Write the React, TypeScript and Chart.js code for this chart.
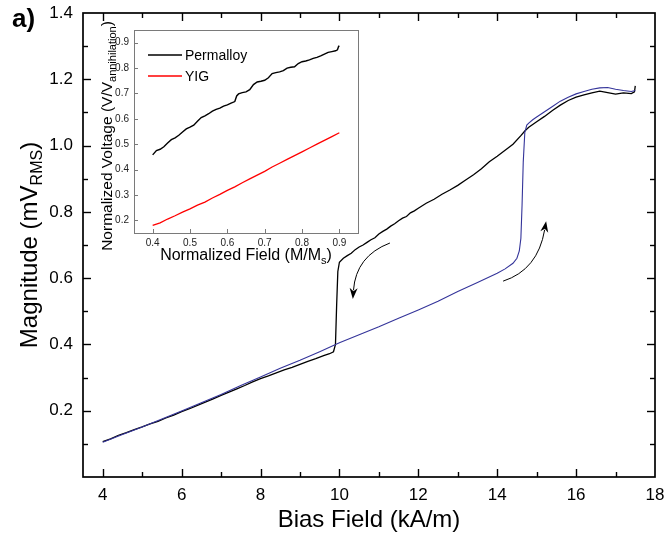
import React, { useEffect, useRef } from "react";
import { Chart, registerables } from "chart.js";

Chart.register(...registerables);

const FONT = "'Liberation Sans', Arial, Helvetica, sans-serif";

// ---------------- Main chart data ----------------
// Permalloy sweep (black): field in kA/m, magnitude in mV RMS
const blackField = [
  4.0, 4.2, 4.4, 4.6, 4.8, 5.0, 5.2, 5.4, 5.6, 5.8, 6.0, 6.2, 6.4, 6.6, 6.8, 7.0, 7.2, 7.4, 7.6, 7.8,
  8.0, 8.2, 8.4, 8.6, 8.8, 9.0, 9.2, 9.4, 9.6, 9.75, 9.85, 9.9, 9.93, 9.96, 10.0, 10.1, 10.2, 10.3,
  10.4, 10.5, 10.6, 10.7, 10.8, 10.9, 11.0, 11.1, 11.2, 11.3, 11.4, 11.5, 11.6, 11.7, 11.8, 11.9,
  12.0, 12.2, 12.4, 12.6, 12.8, 13.0, 13.2, 13.4, 13.6, 13.8, 14.0, 14.2, 14.4, 14.6, 14.7, 14.8,
  15.0, 15.2, 15.4, 15.6, 15.8, 16.0, 16.2, 16.4, 16.6, 16.8, 17.0, 17.2, 17.4, 17.48, 17.5,
];
const blackMag = [
  0.107, 0.115, 0.126, 0.134, 0.143, 0.151, 0.16, 0.168, 0.178, 0.187, 0.197, 0.206, 0.216, 0.226,
  0.236, 0.246, 0.256, 0.266, 0.276, 0.287, 0.297, 0.305, 0.314, 0.323, 0.331, 0.34, 0.349, 0.357,
  0.366, 0.372, 0.378, 0.4, 0.52, 0.62, 0.648, 0.66, 0.668, 0.675, 0.686, 0.694, 0.7, 0.708, 0.716,
  0.722, 0.733, 0.741, 0.748, 0.757, 0.764, 0.773, 0.781, 0.786, 0.797, 0.803, 0.811, 0.826, 0.838,
  0.853, 0.866, 0.88, 0.896, 0.912, 0.93, 0.951, 0.968, 0.986, 1.004, 1.03, 1.044, 1.055, 1.072,
  1.088, 1.106, 1.122, 1.136, 1.146, 1.153, 1.159, 1.164, 1.16, 1.155, 1.159, 1.157, 1.162, 1.18,
];

// Second sweep (navy)
const blueField = [
  4.0, 4.5, 5.0, 5.5, 6.0, 6.5, 7.0, 7.5, 8.0, 8.5, 9.0, 9.5, 10.0, 10.5, 11.0, 11.5, 12.0, 12.5,
  13.0, 13.5, 14.0, 14.2, 14.4, 14.5, 14.56, 14.6, 14.63, 14.66, 14.7, 14.75, 14.8, 14.9, 15.0,
  15.2, 15.4, 15.6, 15.8, 16.0, 16.2, 16.4, 16.6, 16.8, 17.0, 17.2, 17.4, 17.5,
];
const blueMag = [
  0.105, 0.128, 0.151, 0.175, 0.199, 0.224, 0.249, 0.276, 0.302, 0.328, 0.352, 0.378, 0.405, 0.429,
  0.453, 0.479, 0.504, 0.53, 0.56, 0.587, 0.615, 0.628, 0.645, 0.66, 0.682, 0.72, 0.82, 0.95, 1.04,
  1.062, 1.068, 1.078, 1.086, 1.102, 1.118, 1.134, 1.146, 1.156, 1.163, 1.17, 1.174, 1.175, 1.17,
  1.166, 1.163, 1.166,
];

const mainXTicks = [4, 6, 8, 10, 12, 14, 16, 18];
const mainYTicks = [0.2, 0.4, 0.6, 0.8, 1.0, 1.2, 1.4];

// ---------------- Inset data ----------------
const permField = [
  0.4, 0.41, 0.42, 0.43, 0.44, 0.45, 0.46, 0.47, 0.48, 0.49, 0.5, 0.51, 0.52, 0.53, 0.54, 0.55,
  0.56, 0.57, 0.58, 0.59, 0.6, 0.61, 0.62, 0.625, 0.63, 0.64, 0.65, 0.66, 0.67, 0.68, 0.69, 0.7,
  0.71, 0.72, 0.73, 0.74, 0.75, 0.76, 0.77, 0.78, 0.79, 0.8, 0.81, 0.82, 0.83, 0.84, 0.85, 0.86,
  0.87, 0.88, 0.89, 0.895, 0.898, 0.9,
];
const permVolt = [
  0.458, 0.475, 0.48, 0.49, 0.505, 0.518, 0.525, 0.535, 0.548, 0.56, 0.567, 0.575, 0.59, 0.605,
  0.612, 0.62, 0.63, 0.637, 0.642, 0.65, 0.655, 0.662, 0.668, 0.69, 0.698, 0.703, 0.706, 0.715,
  0.735, 0.745, 0.748, 0.752, 0.762, 0.778, 0.782, 0.785, 0.79, 0.8, 0.803, 0.805, 0.818, 0.825,
  0.828, 0.832, 0.838, 0.842, 0.848, 0.855, 0.862, 0.865, 0.868, 0.872, 0.885, 0.888,
];
const yigField = [
  0.4, 0.42, 0.44, 0.46, 0.48, 0.5, 0.52, 0.54, 0.56, 0.58, 0.6, 0.62, 0.64, 0.66, 0.68, 0.7, 0.72,
  0.74, 0.76, 0.78, 0.8, 0.82, 0.84, 0.86, 0.88, 0.9,
];
const yigVolt = [
  0.18, 0.19, 0.205, 0.218, 0.232, 0.245, 0.26, 0.272, 0.288, 0.302, 0.318, 0.332, 0.348, 0.363,
  0.378, 0.393, 0.41, 0.425, 0.44, 0.455, 0.47, 0.485, 0.5, 0.515, 0.53, 0.545,
];

const insetXTicks = [0.4, 0.5, 0.6, 0.7, 0.8, 0.9];
const insetYTicks = [0.2, 0.3, 0.4, 0.5, 0.6, 0.7, 0.8, 0.9];
const insetLabels = ["Permalloy", "YIG"];

// Text
const panelLabel = "a)";
const mainXTitle = [{ t: "Bias Field (kA/m)" }];
const mainYTitle = [{ t: "Magnitude (mV" }, { t: "RMS", sub: true }, { t: ")" }];
const insetXTitle = [{ t: "Normalized Field (M/M" }, { t: "s", sub: true }, { t: ")" }];
const insetYTitle = [{ t: "Normalized Voltage (V/V" }, { t: "annihilation", sub: true }, { t: ")" }];

// Arrow annotations (data coordinates: start, control, end)
const arrowDown = [[11.28, 0.706], [10.42, 0.667], [10.34, 0.537]];
const arrowUp = [[14.15, 0.591], [15.03, 0.625], [15.24, 0.772]];

type Part = { t: string; sub?: boolean };

function drawRich(ctx: CanvasRenderingContext2D, parts: Part[], cx: number, cy: number, size: number, rotate: boolean) {
  const subSize = Math.round(size * 0.68);
  const widths = parts.map((p) => {
    ctx.font = `${p.sub ? subSize : size}px ${FONT}`;
    return ctx.measureText(p.t).width;
  });
  const total = widths.reduce((a, b) => a + b, 0);
  ctx.save();
  ctx.translate(cx, cy);
  if (rotate) ctx.rotate(-Math.PI / 2);
  ctx.fillStyle = "#000";
  ctx.textBaseline = "middle";
  ctx.textAlign = "left";
  let x = -total / 2;
  parts.forEach((p, i) => {
    ctx.font = `${p.sub ? subSize : size}px ${FONT}`;
    ctx.fillText(p.t, x, p.sub ? size * 0.32 : 0);
    x += widths[i];
  });
  ctx.restore();
}

function seg(ctx: CanvasRenderingContext2D, x1: number, y1: number, x2: number, y2: number) {
  ctx.beginPath();
  ctx.moveTo(x1, y1);
  ctx.lineTo(x2, y2);
  ctx.stroke();
}

function drawArrow(ctx: CanvasRenderingContext2D, pts: number[][], sx: any, sy: any) {
  const p = pts.map(([a, b]) => [sx.getPixelForValue(a), sy.getPixelForValue(b)]);
  const [s, c, e] = p;
  const dx = e[0] - c[0];
  const dy = e[1] - c[1];
  const d = Math.hypot(dx, dy);
  const ux = dx / d;
  const uy = dy / d;
  const hl = 11;
  const hw = 4;
  const ex = e[0] - ux * hl * 0.8;
  const ey = e[1] - uy * hl * 0.8;
  ctx.save();
  ctx.strokeStyle = "#000";
  ctx.fillStyle = "#000";
  ctx.lineWidth = 1;
  ctx.beginPath();
  ctx.moveTo(s[0], s[1]);
  ctx.quadraticCurveTo(c[0], c[1], ex, ey);
  ctx.stroke();
  const bx = e[0] - ux * hl;
  const by = e[1] - uy * hl;
  ctx.beginPath();
  ctx.moveTo(e[0], e[1]);
  ctx.lineTo(bx - uy * hw, by + ux * hw);
  ctx.lineTo(e[0] - ux * hl * 0.7, e[1] - uy * hl * 0.7);
  ctx.lineTo(bx + uy * hw, by - ux * hw);
  ctx.closePath();
  ctx.fill();
  ctx.restore();
}

// Major values come from the tick arrays; minors sit half-way between them.
function tickSets(majorsIn: number[], min: number, max: number) {
  const majors = majorsIn.slice();
  const minors: number[] = [];
  const step = majors[1] - majors[0];
  for (let v = majors[0] - step / 2; v <= max + 1e-9; v += step) {
    if (v >= min - 1e-9) minors.push(v);
  }
  for (let v = majors[0] - step; v >= min - 1e-9; v -= step) majors.push(v);
  return { majors, minors };
}

const mainDecor = {
  id: "mainDecor",
  afterDraw(chart: any) {
    const ctx: CanvasRenderingContext2D = chart.ctx;
    const a = chart.chartArea;
    const sx = chart.scales.x;
    const sy = chart.scales.y;
    const L = a.left;
    const R = a.right;
    const T = a.top;
    const B = a.bottom;
    ctx.save();
    ctx.strokeStyle = "#000000";
    ctx.lineWidth = 1.4;
    ctx.lineCap = "butt";
    const xs = tickSets(mainXTicks, sx.min, sx.max);
    const ys = tickSets(mainYTicks, sy.min, sy.max);
    const xMark = (v: number, len: number) => {
      const px = Math.round(sx.getPixelForValue(v)) + 0.5;
      if (px <= L + 1 || px >= R - 1) return;
      seg(ctx, px, B, px, B - len);
      seg(ctx, px, T, px, T + len);
    };
    const yMark = (v: number, len: number) => {
      const py = Math.round(sy.getPixelForValue(v)) + 0.5;
      if (py >= B - 1 || py <= T + 1) return;
      seg(ctx, L, py, L + len, py);
      seg(ctx, R, py, R - len, py);
    };
    xs.majors.forEach((v) => xMark(v, 8));
    xs.minors.forEach((v) => xMark(v, 5));
    ys.majors.forEach((v) => yMark(v, 8));
    ys.minors.forEach((v) => yMark(v, 5));
    ctx.lineWidth = 1.7;
    ctx.strokeRect(L, T, R - L, B - T);
    ctx.restore();

    drawArrow(ctx, arrowDown, sx, sy);
    drawArrow(ctx, arrowUp, sx, sy);

    drawRich(ctx, mainXTitle, (L + R) / 2, 520, 24, false);
    drawRich(ctx, mainYTitle, 30, (T + B) / 2, 24, true);

    ctx.save();
    ctx.font = `bold 26px ${FONT}`;
    ctx.fillStyle = "#000";
    ctx.textBaseline = "alphabetic";
    ctx.textAlign = "left";
    ctx.fillText(panelLabel, 12, 27);
    ctx.restore();
  },
};

const insetDecor = {
  id: "insetDecor",
  afterDraw(chart: any) {
    const ctx: CanvasRenderingContext2D = chart.ctx;
    const a = chart.chartArea;
    const sx = chart.scales.x;
    const sy = chart.scales.y;
    ctx.save();
    ctx.strokeStyle = "#7a7a7a";
    ctx.lineWidth = 1;
    insetXTicks.forEach((v) => {
      const px = Math.round(sx.getPixelForValue(v)) + 0.5;
      seg(ctx, px, a.bottom, px, a.bottom - 4);
    });
    insetYTicks.forEach((v) => {
      const py = Math.round(sy.getPixelForValue(v)) + 0.5;
      seg(ctx, a.left, py, a.left + 4, py);
    });
    ctx.strokeRect(Math.round(a.left) + 0.5, Math.round(a.top) + 0.5, Math.round(a.right - a.left), Math.round(a.bottom - a.top));

    // legend
    const ds = chart.data.datasets;
    ds.forEach((d: any, i: number) => {
      const y = a.top + 25 + i * 21;
      ctx.strokeStyle = d.borderColor;
      ctx.lineWidth = 1.5;
      seg(ctx, a.left + 14, y, a.left + 48, y);
      ctx.fillStyle = "#000";
      ctx.font = `14px ${FONT}`;
      ctx.textBaseline = "middle";
      ctx.textAlign = "left";
      ctx.fillText(d.label, a.left + 51, y + 1);
    });
    ctx.restore();

    drawRich(ctx, insetXTitle, (a.left + a.right) / 2, 236, 16, false);
    drawRich(ctx, insetYTitle, 13, 116, 15.5, true);
  },
};

function fixedTicks(values: number[]) {
  return (s: any) => {
    s.ticks = values.map((v) => ({ value: v }));
  };
}

function fixSize(w: number | null, h: number | null) {
  return (s: any) => {
    if (w !== null) s.width = w;
    if (h !== null) s.height = h;
    s.paddingTop = 0;
    s.paddingBottom = 0;
    s.paddingLeft = 0;
    s.paddingRight = 0;
  };
}

export default function App() {
  const mainRef = useRef<HTMLCanvasElement>(null);
  const insetRef = useRef<HTMLCanvasElement>(null);

  useEffect(() => {
    const main = new Chart(mainRef.current as HTMLCanvasElement, {
      type: "line",
      data: {
        datasets: [
          {
            label: "up",
            data: blueField.map((x, i) => ({ x, y: blueMag[i] })),
            borderColor: "#34349a",
            borderWidth: 1.1,
            pointRadius: 0,
            tension: 0,
            fill: false,
          },
          {
            label: "down",
            data: blackField.map((x, i) => ({ x, y: blackMag[i] })),
            borderColor: "#000000",
            borderWidth: 1.3,
            pointRadius: 0,
            tension: 0,
            fill: false,
          },
        ],
      },
      options: {
        animation: false,
        responsive: false,
        layout: { padding: { top: 13, right: 12, left: 0, bottom: 0 } },
        plugins: { legend: { display: false }, tooltip: { enabled: false } },
        scales: {
          x: {
            type: "linear",
            min: 3.5,
            max: 18,
            grid: { display: false, drawTicks: false },
            border: { display: false },
            afterBuildTicks: fixedTicks(mainXTicks),
            ticks: {
              autoSkip: false,
              maxRotation: 0,
              padding: 8,
              color: "#000",
              font: { family: FONT, size: 17 },
              callback: (v: any) => Number(v).toFixed(0),
            },
            afterFit: fixSize(null, 63),
          },
          y: {
            type: "linear",
            min: 0,
            max: 1.4,
            grid: { display: false, drawTicks: false },
            border: { display: false },
            afterBuildTicks: fixedTicks(mainYTicks),
            ticks: {
              autoSkip: false,
              padding: 10,
              color: "#000",
              font: { family: FONT, size: 17 },
              callback: (v: any) => Number(v).toFixed(1),
            },
            afterFit: fixSize(83, null),
          },
        },
      },
      plugins: [mainDecor],
    } as any);

    const inset = new Chart(insetRef.current as HTMLCanvasElement, {
      type: "line",
      data: {
        datasets: [
          {
            label: insetLabels[0],
            data: permField.map((x, i) => ({ x, y: permVolt[i] })),
            borderColor: "#000000",
            borderWidth: 1.4,
            pointRadius: 0,
            tension: 0,
            fill: false,
          },
          {
            label: insetLabels[1],
            data: yigField.map((x, i) => ({ x, y: yigVolt[i] })),
            borderColor: "#ff0000",
            borderWidth: 1.3,
            pointRadius: 0,
            tension: 0,
            fill: false,
          },
        ],
      },
      options: {
        animation: false,
        responsive: false,
        layout: { padding: { top: 10, right: 12, left: 0, bottom: 0 } },
        plugins: { legend: { display: false }, tooltip: { enabled: false } },
        scales: {
          x: {
            type: "linear",
            min: 0.35,
            max: 0.95,
            grid: { display: false, drawTicks: false },
            border: { display: false },
            afterBuildTicks: fixedTicks(insetXTicks),
            ticks: {
              autoSkip: false,
              maxRotation: 0,
              padding: 4,
              color: "#222",
              font: { family: FONT, size: 10 },
              callback: (v: any) => Number(v).toFixed(1),
            },
            afterFit: fixSize(null, 37),
          },
          y: {
            type: "linear",
            min: 0.15,
            max: 0.95,
            grid: { display: false, drawTicks: false },
            border: { display: false },
            afterBuildTicks: fixedTicks(insetYTicks),
            ticks: {
              autoSkip: false,
              padding: 5,
              color: "#222",
              font: { family: FONT, size: 10 },
              callback: (v: any) => Number(v).toFixed(1),
            },
            afterFit: fixSize(39, null),
          },
        },
      },
      plugins: [insetDecor],
    } as any);

    return () => {
      main.destroy();
      inset.destroy();
    };
  }, []);

  return (
    <div style={{ position: "absolute", left: 0, top: 0, width: 667, height: 540, background: "#fff" }}>
      <canvas ref={mainRef} width={667} height={540} style={{ position: "absolute", left: 0, top: 0, width: 667, height: 540 }} />
      <canvas ref={insetRef} width={275} height={250} style={{ position: "absolute", left: 95, top: 20, width: 275, height: 250 }} />
    </div>
  );
}
